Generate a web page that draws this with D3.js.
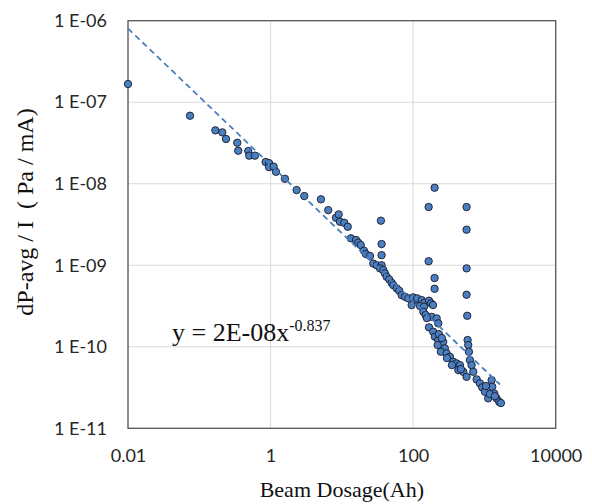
<!DOCTYPE html>
<html>
<head>
<meta charset="utf-8">
<script src="https://cdn.jsdelivr.net/npm/d3@7"></script>
<style>
  html, body { margin: 0; padding: 0; background: #fff; }
  svg { display: block; }
</style>
</head>
<body>
<svg id="chart" width="592" height="504"></svg>
<script>
// ---- data ----
const xTicks = [0.01, 1, 100, 10000];
const xTickLabels = ["0.01", "1", "100", "10000"];
const yTicks = [1e-11, 1e-10, 1e-9, 1e-8, 1e-7, 1e-6];
const yTickLabels = ["1 E-11", "1 E-10", "1 E-09", "1 E-08", "1 E-07", "1 E-06"];

const dosage = [
  0.01, 0.0741, 0.168, 0.210, 0.237, 0.341, 0.352, 0.486, 0.502, 0.604,
  0.853, 0.951, 0.951, 1.105, 1.19, 1.59, 2.32, 2.97, 5.09, 6.44,
  8.27, 9.02, 9.40, 10.8, 12.1, 13.4, 15.8, 17.0, 18.4, 20.4,
  21.8, 24.8, 27.6, 30.8, 35.3, 36.1, 36.1, 36.1, 34.2, 38.1,
  40.2, 42.5, 46.2, 49.9, 52.6, 58.7, 63.8, 69.0, 76.8, 85.4,
  100, 112, 95.3, 114, 132, 143, 167, 178, 125, 142,
  139, 150, 182, 214, 225, 167, 191, 202, 225, 264,
  221, 279, 245, 295, 328, 365, 407, 453, 430, 505,
  562, 200, 165, 562, 562, 165, 562, 200, 200, 562,
  574, 581, 593, 606, 626, 661, 697, 778, 865, 931,
  1016, 1130, 1262, 1285, 1371, 1483, 1614, 1703,
  298, 350, 230, 253, 156, 190, 468, 1050, 1194, 1403
];
const pressure = [
  1.67e-7, 6.83e-8, 4.52e-8, 4.27e-8, 3.54e-8, 3.18e-8, 2.54e-8, 2.52e-8, 2.21e-8, 2.21e-8,
  1.85e-8, 1.79e-8, 1.60e-8, 1.62e-8, 1.40e-8, 1.15e-8, 8.37e-9, 7.06e-9, 6.44e-9, 4.75e-9,
  3.83e-9, 4.21e-9, 3.42e-9, 3.32e-9, 2.97e-9, 2.14e-9, 2.04e-9, 1.89e-9, 1.77e-9, 1.51e-9,
  1.37e-9, 1.30e-9, 1.05e-9, 1.00e-9, 3.52e-9, 1.82e-9, 1.33e-9, 1.00e-9, 9.16e-10, 8.73e-10,
  7.96e-10, 7.23e-10, 6.71e-10, 6.10e-10, 5.71e-10, 5.21e-10, 4.86e-10, 4.31e-10, 4.11e-10, 3.93e-10,
  4.04e-10, 3.74e-10, 3.25e-10, 3.93e-10, 3.74e-10, 3.47e-10, 3.67e-10, 3.41e-10, 3.16e-10, 3.10e-10,
  2.69e-10, 2.45e-10, 2.33e-10, 2.23e-10, 1.94e-10, 1.73e-10, 1.53e-10, 1.33e-10, 1.21e-10, 1.15e-10,
  1.05e-10, 9.55e-11, 8.69e-11, 8.30e-11, 7.54e-11, 6.55e-11, 6.25e-11, 5.96e-11, 5.18e-11, 4.93e-11,
  4.28e-11, 8.93e-9, 5.18e-9, 5.18e-9, 2.73e-9, 1.12e-9, 9.16e-10, 6.97e-10, 5.15e-10, 4.35e-10,
  2.40e-10, 1.21e-10, 1.05e-10, 8.69e-11, 6.87e-11, 5.96e-11, 4.93e-11, 3.98e-11, 3.56e-11, 3.18e-11,
  2.81e-11, 2.33e-11, 3.90e-11, 3.23e-11, 2.68e-11, 2.33e-11, 2.11e-11, 2.04e-11,
  7.27e-11, 5.96e-11, 1.43e-10, 1.28e-10, 2.25e-10, 3.25e-10, 5.32e-11, 3.30e-11, 2.63e-11, 2.48e-11
];
// power-law trendline y = a * x^b
const trendCoef = 1.7e-8;
const trendExp = -0.837;
const trendRange = [0.01, 1650];
const equationMain = "y = 2E-08x";
const equationSup = "-0.837";
const xTitle = "Beam Dosage(Ah)";
const yTitle = "dP-avg / I  ( Pa / mA)";

// ---- layout ----
const svg = d3.select("#chart");
const L = 128, R = 555.7, T = 20.7, B = 428.3;
const x = d3.scaleLog().domain([0.01, 10000]).range([L, R]);
const y = d3.scaleLog().domain([1e-11, 1e-6]).range([B, T]);

// gridlines
svg.append("g").selectAll("line").data(yTicks).join("line")
  .attr("x1", L).attr("x2", R)
  .attr("y1", d => y(d)).attr("y2", d => y(d))
  .attr("stroke", "#d9d9d9").attr("stroke-width", 1);
svg.append("g").selectAll("line").data(xTicks).join("line")
  .attr("x1", d => x(d)).attr("x2", d => x(d))
  .attr("y1", T).attr("y2", B)
  .attr("stroke", "#d9d9d9").attr("stroke-width", 1);

// plot border
svg.append("rect").attr("x", L).attr("y", T).attr("width", R - L).attr("height", B - T)
  .attr("fill", "none").attr("stroke", "#595959").attr("stroke-width", 1.3);

// axes (labels only)
const tickFont = "Lato, 'Open Sans', sans-serif";
const xAxis = d3.axisBottom(x).tickValues(xTicks)
  .tickFormat((d, i) => xTickLabels[i]).tickSize(0).tickPadding(21);
const gx = svg.append("g").attr("transform", `translate(0,${B})`).call(xAxis);
gx.select(".domain").remove();
gx.selectAll("text").attr("font-family", tickFont)
  .attr("font-size", 18).attr("fill", "#262626");

const yAxis = d3.axisLeft(y).tickValues(yTicks)
  .tickFormat((d, i) => yTickLabels[i]).tickSize(0).tickPadding(21);
const gy = svg.append("g").attr("transform", `translate(${L},0)`).call(yAxis);
gy.select(".domain").remove();
gy.selectAll("text").attr("font-family", tickFont)
  .attr("font-size", 18).attr("fill", "#262626");

// trendline
const trendPts = d3.range(0, 101).map(i => {
  const lx = Math.log10(trendRange[0]) + i / 100 * (Math.log10(trendRange[1]) - Math.log10(trendRange[0]));
  const xv = Math.pow(10, lx);
  return [xv, trendCoef * Math.pow(xv, trendExp)];
});

// points
const pts = dosage.map((d, i) => [d, pressure[i]]);
svg.append("g").selectAll("circle").data(pts).join("circle")
  .attr("cx", d => x(d[0])).attr("cy", d => y(d[1])).attr("r", 3.7)
  .attr("fill", "#4a7fc1").attr("stroke", "#1a1a2a").attr("stroke-width", 0.9);

svg.append("path").datum(trendPts)
  .attr("d", d3.line().x(d => x(d[0])).y(d => y(d[1])))
  .attr("fill", "none").attr("stroke", "#4a7ebb").attr("stroke-width", 1.8)
  .attr("stroke-dasharray", "6,4");

// equation
const serif = "'Liberation Serif', 'Times New Roman', serif";
const eq = svg.append("text").attr("x", 172).attr("y", 341)
  .attr("font-family", serif).attr("font-size", 26).attr("fill", "#111");
eq.append("tspan").text(equationMain);
eq.append("tspan").attr("dy", -10).attr("font-size", 16).text(equationSup);

// axis titles
svg.append("text").attr("x", (L + R) / 2).attr("y", 497).attr("text-anchor", "middle")
  .attr("font-family", serif).attr("font-size", 22).attr("fill", "#111").text(xTitle);
svg.append("text")
  .attr("transform", `translate(33,212) rotate(-90)`)
  .attr("text-anchor", "middle").attr("xml:space", "preserve")
  .style("white-space", "pre")
  .attr("font-family", serif).attr("font-size", 24).attr("fill", "#111").text(yTitle);
</script>
</body>
</html>
